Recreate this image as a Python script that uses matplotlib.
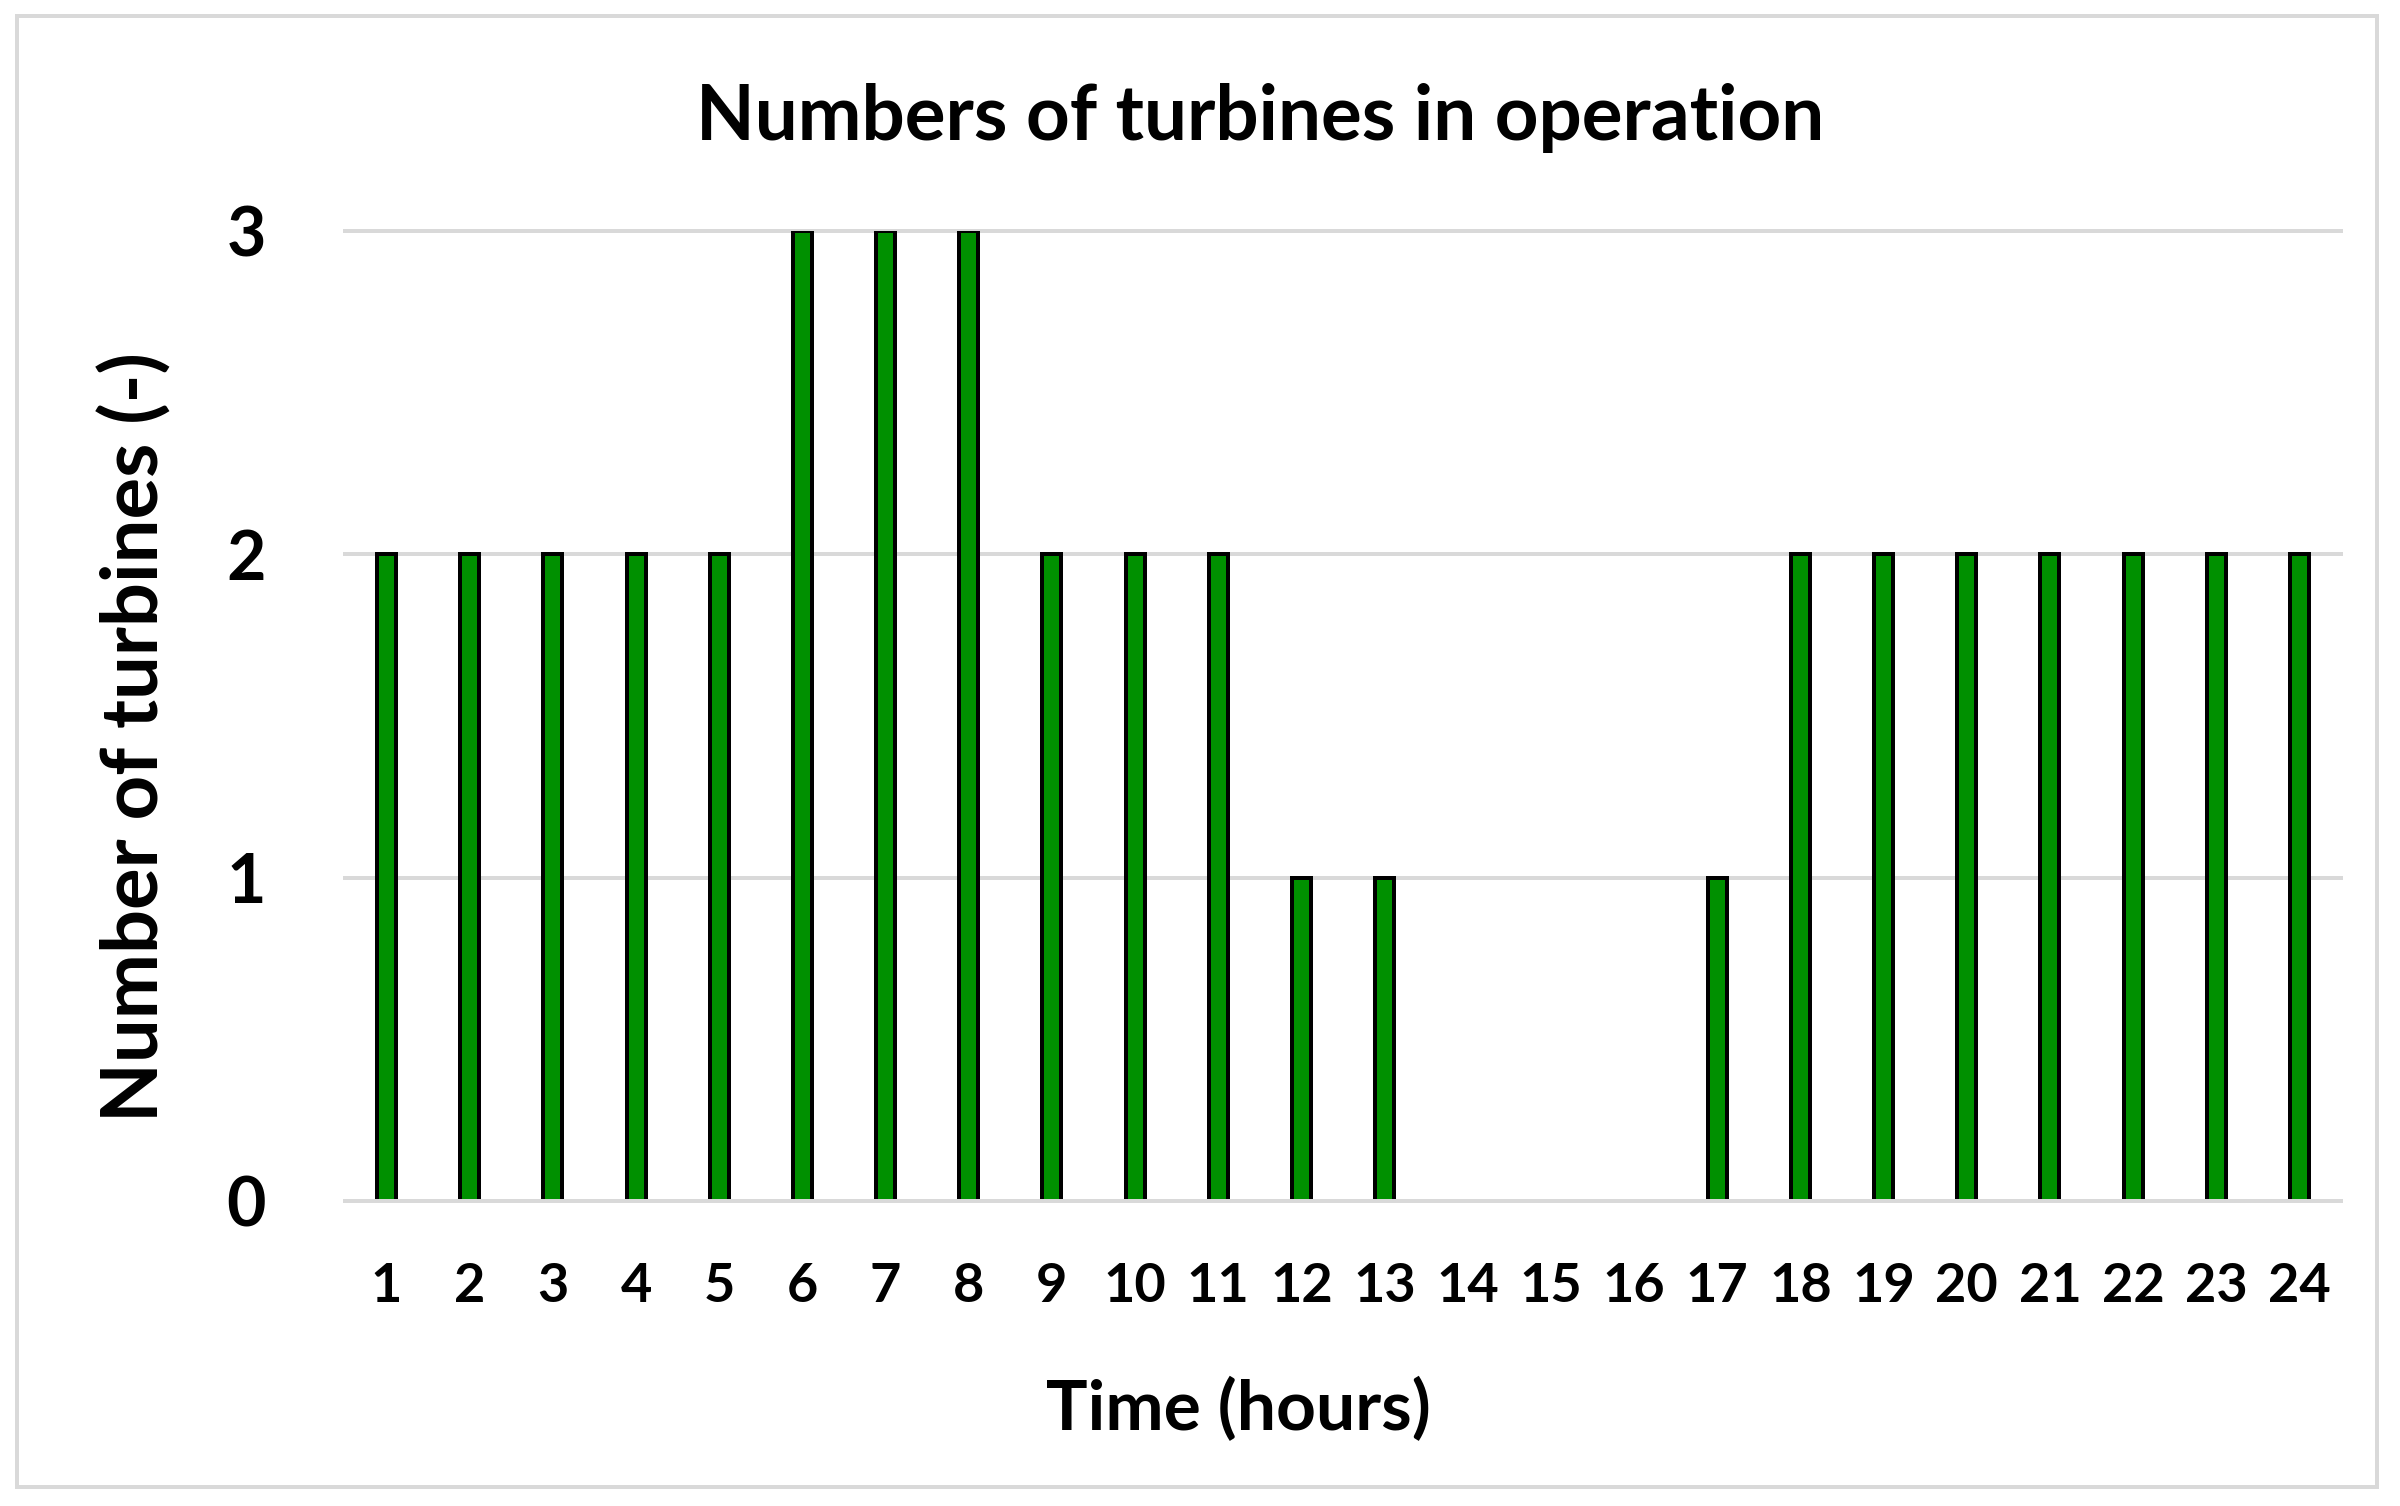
import matplotlib.pyplot as plt
from matplotlib.patches import Rectangle

# Data
hours = list(range(1, 25))
turbines = [2, 2, 2, 2, 2, 3, 3, 3, 2, 2, 2, 1, 1, 0, 0, 0, 1, 2, 2, 2, 2, 2, 2, 2]
y_ticks = [0, 1, 2, 3]

plt.rcParams['font.family'] = ['Lato', 'DejaVu Sans']
plt.rcParams['font.weight'] = 'bold'

W, H = 2400, 1506
fig = plt.figure(figsize=(W / 100, H / 100), dpi=100)
ax = fig.add_axes([345 / W, 1 - 1201 / H, (2341 - 345) / W, (1201 - 231) / H])

grid_col = '#d9d9d9'
px = 72 / 100  # one pixel in points

# Bars
ax.bar(range(len(hours)), turbines, width=0.228, color='#009000',
       edgecolor='black', linewidth=4 * px, zorder=2)

# Gridlines
for t in y_ticks:
    ax.axhline(t, color=grid_col, linewidth=4 * px, clip_on=False,
               zorder=3 if t == 0 else 1)

ax.set_xlim(-0.5, len(hours) - 0.5)
ax.set_ylim(0, 3)
ax.set_xticks(range(len(hours)))
ax.set_xticklabels([str(h) for h in hours], fontsize=39, fontweight='bold')
ax.set_yticks(y_ticks)
ax.set_yticklabels([str(t) for t in y_ticks], fontsize=49, fontweight='bold')
ax.tick_params(axis='x', length=0, pad=44)
ax.tick_params(axis='y', length=0, pad=57)
for s in ax.spines.values():
    s.set_visible(False)

# Titles and labels
fig.text(1260 / W, 1 - 140 / H, 'Numbers of turbines in operation',
         ha='center', va='baseline', fontsize=55, fontweight='bold')
fig.text(1238 / W, 1 - 1430 / H, 'Time (hours)',
         ha='center', va='baseline', fontsize=50, fontweight='bold')
fig.text(135 / W, 1 - 737 / H, 'Number of turbines (-)', rotation=90,
         ha='center', va='center', fontsize=56, fontweight='bold')

# Chart border
fig.patches.append(Rectangle((17 / W, 1 - 1486.5 / H), (2376.5 - 17) / W,
                             (1486.5 - 16) / H, transform=fig.transFigure,
                             fill=False, edgecolor=grid_col, linewidth=4 * px))

fig.savefig('out.png', dpi=100, facecolor='white')
